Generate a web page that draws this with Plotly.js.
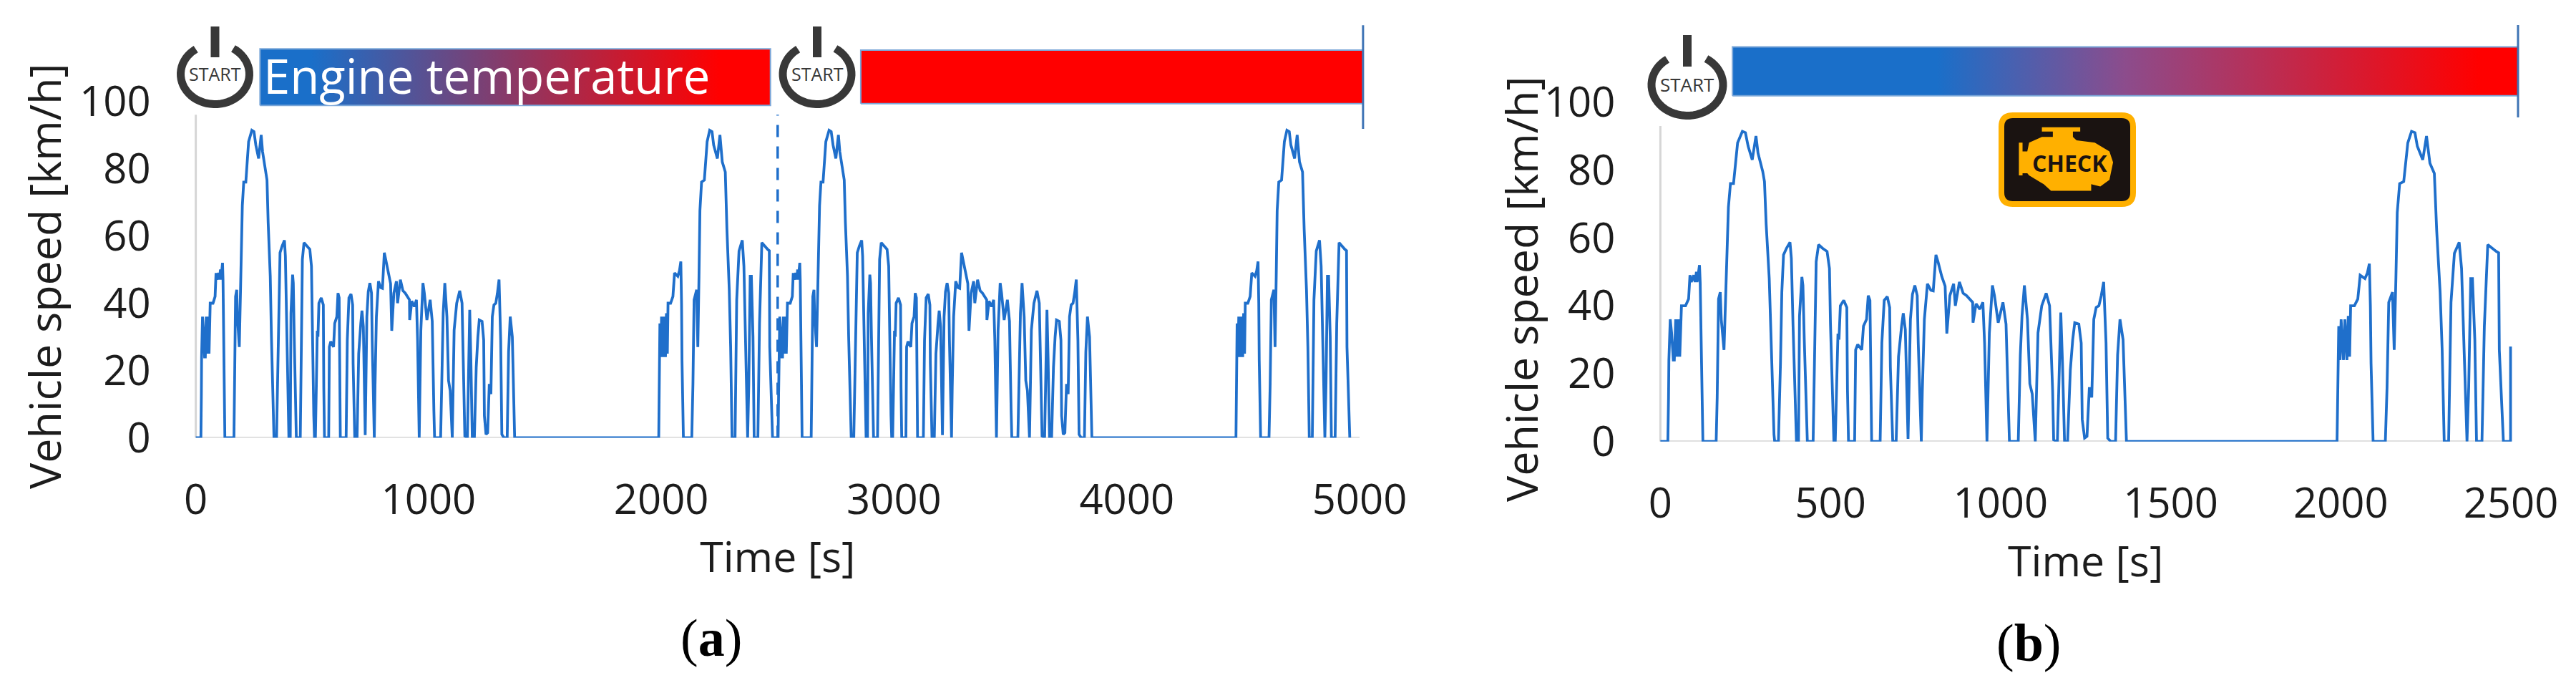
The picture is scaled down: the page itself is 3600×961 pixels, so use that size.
<!DOCTYPE html>
<html>
<head>
<meta charset="utf-8">
<script src="https://cdn.plot.ly/plotly-3.0.1.min.js"></script>
<style>
  html, body { margin: 0; padding: 0; background: #fff; }
  #chart { width: 3600px; height: 961px; }
</style>
</head>
<body>
<div id="chart"></div>
<script>
// one drive cycle
const cycleTime = [0, 22, 24, 25, 29, 33, 38, 41, 45, 49, 53, 57, 62, 74, 83, 87, 91, 98, 102, 106, 108, 115, 117, 120, 124, 125,
  164, 167, 171, 176, 179, 187, 192, 196, 200, 206, 215, 227, 241, 250, 258, 270, 281, 287, 301, 306, 311, 320, 325, 329, 334, 336,
  347, 353, 357, 362, 371, 381, 385, 390, 397, 400, 406, 409, 416, 419, 423, 428, 432, 449, 453, 458, 465, 476, 490, 497, 500, 507, 510,
  514, 518, 522, 525, 529, 539, 548, 550, 553, 571, 574, 580, 592, 597, 606, 611, 616, 621, 646, 651, 658, 667, 674, 676, 683,
  693, 700, 709, 714, 720, 728, 735, 741, 748, 755, 758, 767, 770, 776, 785, 795, 802, 807, 810, 816, 827, 837, 842, 851, 862, 867, 879, 890, 900,
  918, 919, 928, 939, 948, 953, 960, 967, 976, 982, 993, 1007, 1016, 1023, 1026, 1052, 1058, 1063, 1070, 1079, 1086, 1093, 1102,
  1110, 1121, 1134, 1144, 1153, 1156, 1167, 1172, 1177, 1182, 1188, 1197, 1205, 1212, 1218, 1230, 1237, 1240, 1247, 1254, 1261, 1268,
  1274, 1281, 1289, 1296, 1303, 1310, 1315, 1324, 1338, 1344, 1351, 1360, 1370,
  1989, 1991, 1994, 1998, 2001, 2008, 2012, 2018, 2022, 2026, 2029, 2040, 2050, 2057, 2071, 2078, 2084, 2087, 2089, 2095,
  2131, 2136, 2141, 2152, 2157, 2162, 2166, 2173, 2185, 2197, 2208, 2218, 2225, 2241, 2252, 2262, 2275, 2282, 2292, 2298, 2304,
  2317, 2324, 2334, 2348, 2355, 2362, 2371, 2376, 2382, 2387, 2394, 2399, 2415, 2422, 2432, 2457, 2464, 2466, 2473, 2478];
const cycleSpeed = [0, 0, 13, 24, 36, 32, 24, 24, 36, 25, 36, 25, 40, 40, 42, 49, 47, 49, 47, 50, 47, 52, 47, 29, 13, 0,
  0, 13, 42, 44, 36, 27, 43, 58, 69, 76, 76, 88, 91.4, 91, 87, 83, 90, 85, 79.5, 76.6, 64, 48, 30, 16, 2, 0,
  0, 23, 44, 55, 57, 58.7, 54, 34, 9, 0, 0, 37, 48.5, 46, 30, 13, 0, 0, 27, 53, 58, 57, 56, 51, 34.6, 6.5, 0,
  0, 15.6, 31.8, 30, 40, 41.6, 39.5, 15, 0, 0, 27, 28.6, 27, 34, 36, 43, 41.6, 0, 0, 29, 41.6, 42.7, 39.5, 22, 0,
  0, 25, 34, 37.8, 33, 0.8, 36, 43.4, 46, 43, 29, 0, 15, 36, 46.5, 44.6, 44.4, 53, 55, 53, 48.7, 45.8, 31.8, 43, 46.5, 40, 47, 43.7, 43,
  41, 35, 40.6, 39, 41, 29, 0, 32, 46, 43, 35, 41, 34.6, 8, 0, 0, 25.5, 37, 46, 36, 17, 14, 0,
  32, 40, 43.7, 40, 15, 0.5, 0, 18, 38, 23, 0, 0, 21, 30, 35, 34.6, 29, 6.5, 1, 1.5, 16, 13,
  36, 39.5, 40, 43, 47, 29, 1, 0, 0, 25.5, 36, 30, 0,
  0, 12.7, 34, 24, 36, 24, 36, 24, 37, 25, 40, 40, 42, 49, 48, 49.6, 52.4, 40, 23, 0,
  0, 16, 41, 44, 27, 48, 67.5, 76, 76.6, 88, 91.4, 91, 87, 83, 90, 82, 79, 62, 44, 27, 0,
  0, 41, 55.5, 58.7, 51, 30, 0, 16, 48, 48, 30, 0, 0, 34, 58, 56, 55.6, 27, 9, 0];
const cycleOffset = 2480;   // second run starts here in panel (a)

// panel (b) stops just as the next run starts
const endTime = [2499, 2499];
const endSpeed = [0, 28];

const timeA = cycleTime.concat(cycleTime.map(t => t + cycleOffset));
const speedA = cycleSpeed.concat(cycleSpeed);
const timeB = cycleTime.concat(endTime);
const speedB = cycleSpeed.concat(endSpeed);

const ticksY = [0, 20, 40, 60, 80, 100];
const ticksXA = [0, 1000, 2000, 3000, 4000, 5000];
const ticksXB = [0, 500, 1000, 1500, 2000, 2500];

const W = 3600, H = 961;
const px = x => x / W;
const py = y => 1 - y / H;
const BLUE = '#1f6fcb';
const DARK = '#383838';
const INK = '#1c1c1c';
const FONT = '"Open Sans", sans-serif';

// temperature bars: [start s, end s, bottom, top]
const barA1 = [276, 2469, 98.8, 115.6];
const barA2 = [2857, 5015, 99.3, 115.2];
const barB = [212, 2521, 101.9, 116.3];

const gradA = [[0, '#1a6fc9'], [0.1, '#1a6fc9'], [0.9, '#ff0000'], [1, '#ff0000']];
const gradB = [[0, '#1a6fc9'], [0.26, '#1a6fc9'], [0.5, '#8c4c8c'], [0.95, '#ff0000'], [1, '#ff0000']];

function barTrace(bar, xa, ya, scale) {
  return {
    x: [bar[0], bar[1], bar[1], bar[0], bar[0]],
    y: [bar[2], bar[2], bar[3], bar[3], bar[2]],
    xaxis: xa, yaxis: ya, mode: 'lines', line: { width: 2, color: '#7aa6d8' },
    fill: 'toself', fillcolor: '#ff0000',
    fillgradient: { type: 'horizontal', colorscale: scale },
    hoverinfo: 'skip', showlegend: false, cliponaxis: false
  };
}

function speedTrace(x, y, xa, ya) {
  return {
    x: x, y: y, xaxis: xa, yaxis: ya, mode: 'lines',
    line: { color: BLUE, width: 3.8 }, showlegend: false, cliponaxis: false
  };
}

const traces = [
  barTrace(barA1, 'x', 'y', gradA),
  barTrace(barA2, 'x', 'y', [[0, '#ff0000'], [1, '#ff0000']]),
  barTrace(barB, 'x2', 'y2', gradB),
  speedTrace(timeA, speedA, 'x', 'y'),
  speedTrace(timeB, speedB, 'x2', 'y2')
];

// the x range runs a little past both ends so the end caps fit and the title stays centred
function xAxis(left, right, pad, ticks, last) {
  const perPx = last / (right - left);
  return {
    domain: [px(left - pad), px(right + pad)], range: [-pad * perPx, last + pad * perPx],
    tickvals: ticks, ticktext: ticks.map(String),
    showgrid: false, zeroline: false, showline: false, ticklen: 0, ticks: '',
    ticklabelstandoff: 47, tickfont: { family: FONT, size: 58, color: INK },
    title: { text: 'Time [s]', standoff: 24, font: { family: FONT, size: 59, color: INK } }
  };
}

function yAxis(bottom, top, perUnit, standoff) {
  return {
    domain: [py(bottom), py(top)], range: [0, (bottom - top) / perUnit], tickvals: ticksY, ticktext: ticksY.map(String),
    showgrid: false, zeroline: false, showline: false, ticklen: 0, ticks: '',
    ticklabelstandoff: standoff, tickfont: { family: FONT, size: 58, color: INK }
  };
}

// polyline ring with a gap at the top, in picture pixels
function ringPath(cx, cy, rx, ry) {
  const pts = [];
  for (let a = -58; a <= 238; a += 6) {
    const r = a * Math.PI / 180;
    pts.push(px(cx + rx * Math.cos(r)) + ',' + py(cy + ry * Math.sin(r)));
  }
  return 'M' + pts.join('L');
}

function powerIcon(cx, cy, rx, ry, barTop, barBottom) {
  return [
    { type: 'path', xref: 'paper', yref: 'paper', path: ringPath(cx, cy, rx, ry), line: { color: DARK, width: 11 } },
    { type: 'line', xref: 'paper', yref: 'paper', x0: px(cx), x1: px(cx), y0: py(barTop), y1: py(barBottom), line: { color: DARK, width: 12 } }
  ];
}

function polyPath(points) {
  return 'M' + points.map(p => px(p[0]) + ',' + py(p[1])).join('L') + 'Z';
}

function roundRect(l, t, r, b, c) {
  const s = (x, y) => px(x) + ',' + py(y);
  return 'M' + s(l + c, t) + 'L' + s(r - c, t) + 'Q' + s(r, t) + ' ' + s(r, t + c) + 'L' + s(r, b - c) + 'Q' + s(r, b) + ' ' + s(r - c, b)
    + 'L' + s(l + c, b) + 'Q' + s(l, b) + ' ' + s(l, b - c) + 'L' + s(l, t + c) + 'Q' + s(l, t) + ' ' + s(l + c, t) + 'Z';
}

// check-engine lamp outline, zoomed picture coords
const engine = [[105, 290], [210, 290], [210, 300], [190, 300], [190, 312], [200, 320], [250, 325], [290, 345], [300, 370], [290, 410], [265, 425], [240, 420], [240, 435], [130, 435], [110, 420], [70, 400], [65, 395], [52, 395], [52, 400], [42, 400], [42, 325], [52, 325], [52, 345], [65, 345], [70, 325], [105, 312], [135, 312], [135, 300], [105, 300]]
  .map(p => [2800 + p[0] / 1.96, p[1] / 1.632]);

const shapes = [
  // axis lines
  { type: 'line', xref: 'x', yref: 'y', x0: 0, x1: 0, y0: 0, y1: 96, line: { color: '#d6d6d6', width: 3 }, layer: 'below' },
  { type: 'line', xref: 'x', yref: 'y', x0: 0, x1: 5000, y0: 0, y1: 0, line: { color: '#d6d6d6', width: 3 }, layer: 'below' },
  { type: 'line', xref: 'x2', yref: 'y2', x0: 0, x1: 0, y0: 0, y1: 93, line: { color: '#d6d6d6', width: 3 }, layer: 'below' },
  { type: 'line', xref: 'x2', yref: 'y2', x0: 0, x1: 2500, y0: 0, y1: 0, line: { color: '#d6d6d6', width: 3 }, layer: 'below' },
  // restart marker
  { type: 'line', xref: 'x', yref: 'y', x0: 2500, x1: 2500, y0: 0, y1: 96, line: { color: BLUE, width: 3.5, dash: '17px,13px' } },
  // end caps
  { type: 'line', xref: 'x', yref: 'y', x0: 5015, x1: 5015, y0: 91.8, y1: 122.6, line: { color: '#3f74b5', width: 3 } },
  { type: 'line', xref: 'x2', yref: 'y2', x0: 2521, x1: 2521, y0: 95.5, y1: 122.7, line: { color: '#3f74b5', width: 3 } },
  // check-engine lamp
  { type: 'path', xref: 'paper', yref: 'paper', path: roundRect(2797, 161, 2981, 285, 16), fillcolor: '#1a1311', line: { color: '#ffb000', width: 8 } },
  { type: 'path', xref: 'paper', yref: 'paper', path: polyPath(engine), fillcolor: '#ffb000', line: { width: 0 } }
].concat(
  powerIcon(300.5, 103.5, 48, 42, 37, 80),
  powerIcon(1142, 103.5, 48, 42, 37, 80),
  powerIcon(2358, 118.5, 50, 43, 49, 93)
);

function pageText(text, x, y, size, extra) {
  return Object.assign({
    text: text, xref: 'paper', yref: 'paper', x: px(x), y: py(y), showarrow: false,
    xanchor: 'center', yanchor: 'middle', font: { family: FONT, size: size, color: INK }
  }, extra || {});
}

const annotations = [
  pageText('Vehicle speed [km/h]', 61, 386, 61, { textangle: -90 }),
  pageText('Vehicle speed [km/h]', 2125, 404, 61, { textangle: -90 }),
  pageText('Engine temperature', 680, 105, 67, { font: { family: FONT, size: 67, color: '#fff' } }),
  pageText('START', 300.5, 103, 25, { font: { family: FONT, size: 25, color: DARK } }),
  pageText('START', 1142, 103, 25, { font: { family: FONT, size: 25, color: DARK } }),
  pageText('START', 2358, 118, 26, { font: { family: FONT, size: 26, color: DARK } }),
  pageText('<b>CHECK</b>', 2892, 227, 32, { font: { family: FONT, size: 32, color: '#1a1311' } }),
  pageText('(<b>a</b>)', 994, 891, 74, { font: { family: '"Liberation Serif", serif', size: 74, color: '#000' } }),
  pageText('(<b>b</b>)', 2835, 898, 74, { font: { family: '"Liberation Serif", serif', size: 74, color: '#000' } })
];

const layout = {
  width: W, height: H,
  margin: { l: 0, r: 0, t: 0, b: 0 },
  paper_bgcolor: '#fff', plot_bgcolor: '#fff',
  showlegend: false,
  xaxis: Object.assign(xAxis(273.6, 1900, 20, ticksXA, 5000), { anchor: 'y' }),
  yaxis: Object.assign(yAxis(611.5, 20, 4.7, 42), { anchor: 'x' }),
  xaxis2: Object.assign(xAxis(2320.4, 3509, 25, ticksXB, 2500), { anchor: 'y2' }),
  yaxis2: Object.assign(yAxis(616.7, 20, 4.74, 37), { anchor: 'x2' }),
  shapes: shapes,
  annotations: annotations
};

Plotly.newPlot('chart', traces, layout, { displayModeBar: false, responsive: false });
</script>
</body>
</html>
